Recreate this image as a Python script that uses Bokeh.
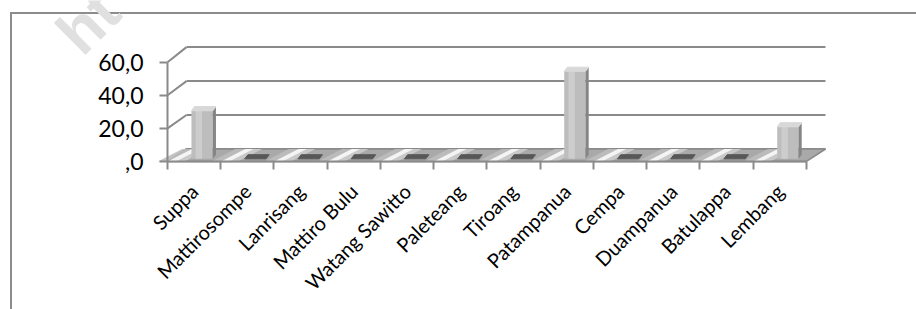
import numpy as np
from bokeh.plotting import figure
from bokeh.models import Range1d, FixedTicker, CustomJSTickFormatter, Label
from bokeh.embed import file_html
from bokeh.resources import INLINE

# ---- data ----
categories = ["Suppa", "Mattirosompe", "Lanrisang", "Mattiro Bulu", "Watang Sawitto",
              "Paleteang", "Tiroang", "Patampanua", "Cempa", "Duampanua", "Batulappa", "Lembang"]
values = [28.7, 0, 0, 0, 0, 0, 0, 52.2, 0, 0, 0, 19.1]
y_ticks = [0, 20, 40, 60]
y_tick_labels = [",0", "20,0", "40,0", "60,0"]

# ---- 3D-look geometry (style constants) ----
N = len(categories)
DX = 0.357          # depth shift in x (category units)
DY0 = 7.55          # depth shift in y at 0
DYK = 0.026         # extra depth shift proportional to value (perspective)
BASE = 1.6          # bar front face base offset
BSC = 1.013         # bar-plane scale
CAP = 2.5           # cap depth in y
SIDE = 0.06         # side face width
FL, FR = 0.45, 0.85 # front face left/right inside a category

def back(y):
    return y + DY0 + DYK * y

GRAY = "#8a8a8a"

# the frame covers the whole canvas; axes are drawn at fixed data locations
p = figure(width=916, height=309, output_backend="svg", toolbar_location=None,
           x_range=Range1d(-3.136, 14.066), y_range=Range1d(-89.43, 97.28),
           min_border=0)
p.outline_line_color = None
p.grid.visible = False
p.background_fill_color = None
p.border_fill_color = None
# outer chart border: only its left and top edges fall inside the window
p.styles = {"box-shadow": "inset 10px 12px 0 0 white, inset 12px 14px 0 0 #8c8c8c",
            "background-color": "white"}

# faint watermark
p.add_layout(Label(x=-1.88, y=71.9, text="ht", text_baseline="alphabetic",
                   angle=np.pi / 4, text_color="#e0e0e0",
                   text_font="Liberation Sans", text_font_style="bold", text_font_size="62px"))

# ---- back wall gridlines and side diagonals ----
gy = np.array(y_ticks, dtype=float)
p.segment(x0=[DX] * len(gy), y0=back(gy), x1=[N + DX] * len(gy), y1=back(gy),
          line_color=GRAY, line_width=2)
p.segment(x0=[0] * len(gy), y0=gy, x1=[DX] * len(gy), y1=back(gy),
          line_color=GRAY, line_width=2)

# ---- floor ----
p.patch(x=[0, N, N + DX, DX], y=[0, 0, back(0), back(0)],
        fill_color="#a9a9a9", line_color=GRAY, line_width=1.5)

def band(a, b, shift):
    return [[k + a, k + b, k + b + shift, k + a + shift] for k in range(N)]

fy = [[0, 0, back(0), back(0)] for _ in range(N)]
p.patches(xs=band(-0.18, 0.0, DX + 0.1), ys=fy, fill_color="#bcbcbc", fill_alpha=0.9, line_color=None)
p.patches(xs=band(0.14, 0.32, DX + 0.1), ys=fy, fill_color="#cccccc", fill_alpha=0.9, line_color=None)
p.patches(xs=band(0.0, 0.16, DX + 0.1), ys=fy, fill_color="#f4f4f4", fill_alpha=1.0, line_color=None)

# ---- bars ----
idx = np.arange(N)
vals = np.array(values, dtype=float)
top = BASE + vals * BSC
nz = vals > 0

# front faces
p.quad(left=idx[nz] + FL, right=idx[nz] + FR, bottom=BASE, top=top[nz],
       fill_color="#bdbdbd", line_color=None)
p.quad(left=idx[nz] + FL + 0.08, right=idx[nz] + FL + 0.2, bottom=BASE, top=top[nz],
       fill_color="#cdcdcd", line_color=None)
# side faces
side_x = [[i + FR, i + FR + SIDE, i + FR + SIDE, i + FR] for i in idx[nz]]
side_y = [[BASE, BASE + CAP, t + CAP, t] for t in top[nz]]
p.patches(xs=side_x, ys=side_y, fill_color="#858585", line_color=None)
# caps (tops) for all bars; zero bars appear as dark flat caps
cap_x = [[i + FL, i + FR, i + FR + SIDE, i + FL + SIDE] for i in idx]
cap_y = [[t, t, t + CAP, t + CAP] for t in top]
cap_col = ["#d8d8d8" if v > 0 else "#575757" for v in vals]
p.patches(xs=cap_x, ys=cap_y, fill_color=cap_col, line_color=cap_col, line_width=1)

# ---- axes ----
xa = p.xaxis[0]
xa.fixed_location = 0
xa.ticker = FixedTicker(ticks=list(idx + 0.5), minor_ticks=list(range(N + 1)))
xa.formatter = CustomJSTickFormatter(args=dict(cats=categories),
                                     code="return cats[Math.floor(tick)] || '';")
xa.bounds = (0, N)
xa.axis_line_color = GRAY
xa.axis_line_width = 2
xa.major_tick_line_color = None
xa.major_tick_out = 0
xa.major_tick_in = 0
xa.minor_tick_line_color = GRAY
xa.minor_tick_line_width = 2
xa.minor_tick_out = 8
xa.minor_tick_in = 0
xa.major_label_orientation = np.pi / 4
xa.major_label_standoff = 18
xa.major_label_text_font = "Lato"
xa.major_label_text_font_size = "20px"
xa.major_label_text_color = "black"

ya = p.yaxis[0]
ya.fixed_location = 0
ya.ticker = FixedTicker(ticks=y_ticks, minor_ticks=[])
ya.formatter = CustomJSTickFormatter(args=dict(vals=y_ticks, labs=y_tick_labels),
                                     code="const i = vals.indexOf(tick); return i >= 0 ? labs[i] : '';")
ya.bounds = (0, 60)
ya.axis_line_color = GRAY
ya.axis_line_width = 2
ya.major_tick_line_color = GRAY
ya.major_tick_line_width = 2
ya.major_tick_out = 8
ya.major_tick_in = 0
ya.minor_tick_line_color = None
ya.major_label_standoff = 16
ya.major_label_text_font = "Lato"
ya.major_label_text_font_size = "23px"
ya.major_label_text_color = "black"

open("out.html", "w").write(file_html(p, INLINE))
